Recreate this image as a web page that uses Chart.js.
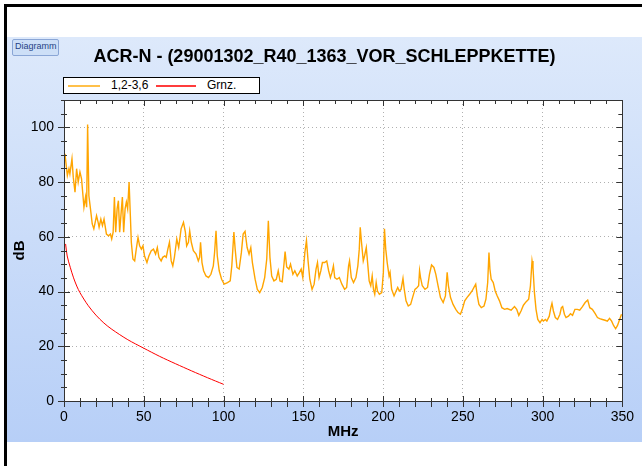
<!DOCTYPE html>
<html>
<head>
<meta charset="utf-8">
<script src="https://cdn.jsdelivr.net/npm/chart.js@4.4.0/dist/chart.umd.min.js"></script>
<style>
body { margin: 0; background: #fff; width: 642px; height: 466px; overflow: hidden; position: relative; font-family: Arial, "Liberation Sans", sans-serif; }
#frame { position: absolute; left: 4px; top: 4px; width: 638px; height: 462px; border-left: 3px solid #000; border-top: 3px solid #000; box-sizing: border-box; }
#panel { position: absolute; left: 7px; top: 37px; width: 635px; height: 405px; background: linear-gradient(to bottom, #dde9fb, #b7cff7); }
#panel canvas { position: absolute; left: 0; top: 0; }
#title { position: absolute; left: 0; top: 8px; width: 635px; text-align: center; font-size: 18px; font-weight: bold; line-height: 22px; color: #000; }
#btn { position: absolute; left: 5px; top: 2px; width: 47px; height: 17px; box-sizing: border-box; border: 1px solid #8aa6d6; border-radius: 2px; background: #cddff7; color: #1f3f86; font-size: 9px; line-height: 13px; padding-left: 2px; }
#legend { position: absolute; left: 56px; top: 40px; width: 197px; height: 17px; box-sizing: border-box; border: 1px solid #000; background: #fff; font-size: 12px; }
#legend .ln { position: absolute; top: 7px; height: 2px; width: 32px; }
#legend .tx { position: absolute; top: 0px; line-height: 15px; color: #000; }
</style>
</head>
<body>
<div id="frame"></div>
<div id="panel">
  <canvas id="myChart" width="635" height="405"></canvas>
  <div id="title">ACR-N - (29001302_R40_1363_VOR_SCHLEPPKETTE)</div>
  <div id="btn">Diagramm</div>
  <div id="legend">
    <div class="ln" style="left:4px;background-color:#ffc04a"></div>
    <div class="tx" style="left:47px">1,2-3,6</div>
    <div class="ln" style="left:92px;width:40px;background-color:#ff3c3c"></div>
    <div class="tx" style="left:143px">Grnz.</div>
  </div>
</div>
<script>
// measured curve 1,2-3,6 (MHz / dB)
var freq = [0.6, 2.1, 3.1, 3.7, 5, 5.8, 6.9, 7.9, 8.9, 10, 11, 12.5, 13.5, 14.2, 14.8, 15.6, 16.6, 17.7, 18.7, 20.4,
    21.4, 22, 23.1, 24.1, 25.1, 26.6, 27.9, 29.1, 29.9, 30.8, 31.6, 32.4, 33.3, 34.1, 34.9, 36, 36.6, 37.4, 38.3, 39.1,
    39.9, 40.8, 41.6, 42.2, 43.2, 44.3, 45.3, 46.4, 47.4, 48.5, 49.5, 50.5, 52, 53.2, 54.7, 56.1, 57.4, 58.5, 59.5, 60.9,
    61.9, 63.2, 64.1, 65.1, 66.1, 67.2, 68.2, 69.2, 70.7, 71.9, 73.4, 74.9, 76.1, 76.9, 78, 78.8, 79.8, 81.1, 82.8, 84.2,
    85, 85.6, 86.5, 87.5, 89, 90.6, 92.1, 93.6, 94.4, 95.3, 96.1, 97.3, 98.8, 100.4, 102.5, 104.2, 105.2, 106.5, 107.3, 108.4,
    109.8, 111.2, 112.3, 113.5, 114.8, 116, 117.1, 118.1, 119.8, 121.2, 122.7, 124.3, 125.8, 127.1, 128.1, 129.1, 130.2, 131.6, 133.1, 134.3,
    135.4, 136.8, 137.9, 138.6, 139.6, 141, 142, 143.5, 144.7, 146.2, 147.6, 148.7, 149.7, 151, 152, 153, 154.1, 155.5, 156.8, 158,
    158.9, 159.9, 161, 162, 163.4, 164.7, 165.9, 167, 168, 168.9, 169.7, 171.1, 172.6, 174.2, 175.9, 177.2, 178.4, 179, 180.1, 181.5,
    183, 184.2, 185.1, 185.7, 186.5, 187.6, 188.4, 189.5, 190.5, 191.3, 192.3, 193.2, 194, 194.8, 195.7, 196.5, 197.7, 199.2, 200.2, 200.9,
    201.7, 202.6, 203.8, 204.4, 205.4, 206.9, 208.2, 209.2, 210.2, 211.3, 212.5, 213.3, 214.4, 215.8, 217.3, 218.5, 220, 221.4, 222.3, 222.9,
    223.5, 224.6, 226.3, 227.9, 229.1, 230.4, 231.9, 233.1, 234.5, 236, 237.7, 239.1, 240.2, 241, 242.3, 243.9, 245.6, 247, 248.5, 249.7,
    251.2, 252.6, 254.3, 255.8, 257, 258.1, 259.1, 260.1, 261.6, 263.3, 264.5, 265.6, 266.4, 267, 267.8, 269.1, 270.3, 271.6, 273, 274.5,
    276.2, 277.8, 280.3, 282.4, 283.8, 285.1, 286.5, 288, 289.6, 291.3, 292.4, 293.4, 294, 294.9, 295.9, 297, 298.4, 299.7, 300.5, 301.8,
    302.7, 304.2, 305.2, 305.9, 306.8, 308, 309.4, 310.9, 311.8, 312.6, 313.7, 314.7, 316.2, 317.5, 318.8, 320.3, 321.8, 323.3, 325, 326.7,
    328.3, 329.6, 331.2, 332.9, 334.4, 335.8, 337.5, 339.2, 340.6, 342, 343.3, 344.5, 345.8, 347, 348.3, 349.5]
var acr = [90.3, 82.4, 84.9, 83, 88.5, 81.8, 76.3, 84.9, 80, 83.7, 81.2, 70.8, 74.5, 70.8, 101, 75, 70.2, 64.7, 62.9, 67.7,
    65.3, 63.5, 66.5, 64.1, 66.5, 61, 60.4, 61, 59.2, 61.7, 74.5, 61.7, 70.2, 73.2, 61.7, 70.2, 74.5, 61.7, 70.2, 72.7,
    70.2, 80, 67.7, 58, 51.9, 51.2, 55.5, 59.8, 56.7, 55.5, 56.7, 53, 50.6, 53, 54.9, 55.5, 53.7, 56.1, 52.5, 51.2,
    52.5, 53, 52.5, 55.5, 58, 51.2, 49.4, 52.5, 59.2, 56.1, 62.9, 65.3, 61.7, 56.7, 58, 62.2, 58, 54.9, 53.7, 51.2,
    52.5, 58, 50.6, 47.6, 45.7, 45.1, 46.3, 49.4, 54.3, 62.2, 53, 47.6, 44.5, 42.7, 43.3, 43.9, 49.4, 61.7, 55.5, 48.8,
    48.2, 54.3, 61, 62, 56.1, 53.7, 56.1, 50.6, 44.5, 40.8, 39.6, 41.5, 45.1, 51.9, 65.9, 52.5, 45.7, 43.9, 44.5, 47.6,
    43.9, 43.6, 50, 54.6, 49, 48.2, 50, 46.3, 47.6, 45.7, 47, 48.2, 45.1, 54.3, 58.6, 51.2, 44.5, 40.8, 42.7, 48.2,
    50.6, 45.1, 47.6, 50.6, 50.6, 51.2, 47.6, 45.1, 47, 49.4, 45.1, 44.5, 45.1, 42.7, 40.8, 41.5, 49.4, 51.2, 45.1, 43.3,
    45.1, 49.4, 55.5, 63.5, 58, 51.2, 53, 56.1, 49.4, 43.9, 42.1, 45.7, 40.8, 39, 43.3, 40.2, 39, 39.6, 47, 62.9,
    55.5, 50.6, 45.7, 47, 40.8, 38.4, 40.2, 41.5, 40.2, 40.8, 44.8, 40.8, 36.6, 34.7, 35.3, 37.8, 40.8, 41.5, 42.1, 47.6,
    45.1, 42.1, 40.8, 41.5, 46.3, 49.7, 48.8, 46.3, 42.1, 37.8, 36, 38.4, 47, 42.1, 37.8, 35.3, 33.5, 32.3, 31.7, 33.5,
    36.6, 37.8, 39, 40.2, 41.5, 42.7, 38.4, 35.3, 34.1, 34.7, 37.2, 43.3, 54.3, 48.2, 44.5, 43.3, 40.2, 38.4, 36.6, 34.1,
    33.5, 33.8, 33.2, 34.5, 33.5, 31.3, 32.9, 35, 36.2, 37.2, 42.1, 51.2, 48.8, 39.6, 33.5, 29.8, 28.6, 29.8, 29.2, 29.8,
    29.2, 31, 34.1, 35.7, 32.9, 30.5, 29.8, 31.7, 34.1, 34.5, 31.7, 30.5, 31, 31.9, 31.3, 33.5, 33.5, 33.2, 34.5, 36,
    36.9, 34.1, 33.5, 32, 30.5, 30.1, 29.8, 29.5, 29.2, 30.2, 29.2, 27.6, 26.4, 27.6, 29.8, 31.7]

// limit curve Grnz.
var limitFreq = [1, 2, 4, 6, 8, 10, 15, 20, 25, 30, 40, 50, 60, 70, 80, 90, 100]
var limitVal = [57.4, 53, 48.7, 45, 42, 39.6, 35, 31.4, 28.5, 26.2, 22.4, 19.3, 16.3, 13.6, 11, 8.5, 6.1]

var xTicks = [0, 50, 100, 150, 200, 250, 300, 350]
var yTicks = [0, 20, 40, 60, 80, 100]

Chart.defaults.font.family = 'Arial, "Liberation Sans", sans-serif'

function pts(xs, ys) {
    return xs.map((f, i) => ({ x: f, y: ys[i] }))
}

// white plot area, frame and small tick marks on all four sides
var frame = {
    id: 'frame',
    beforeDraw: function (chart) {
        var ctx = chart.ctx, a = chart.chartArea
        ctx.save()
        ctx.fillStyle = '#fff'
        ctx.fillRect(a.left, a.top, a.right - a.left, a.bottom - a.top)
        ctx.restore()
    },
    afterDraw: function (chart) {
        var ctx = chart.ctx, a = chart.chartArea
        var sx = chart.scales.x, sy = chart.scales.y
        ctx.save()
        ctx.strokeStyle = '#333'
        ctx.lineWidth = 1
        ctx.strokeRect(Math.round(a.left) + 0.5, Math.round(a.top) + 0.5, Math.round(a.right - a.left), Math.round(a.bottom - a.top))
        ctx.beginPath()
        for (var v = 0; v <= 350; v += 10) {
            var big = v % 50 == 0
            var px = Math.round(sx.getPixelForValue(v)) + 0.5
            ctx.moveTo(px, a.bottom - (big ? 5 : 3))
            ctx.lineTo(px, a.bottom + 6)
            ctx.moveTo(px, a.top)
            ctx.lineTo(px, a.top + (big ? 6 : 4))
        }
        for (var w = 0; w <= 110; w += 5) {
            var big2 = w % 20 == 0
            var py = Math.round(sy.getPixelForValue(w)) + 0.5
            ctx.moveTo(a.left - (big2 ? 6 : 3), py)
            ctx.lineTo(a.left + (big2 ? 6 : 3), py)
            ctx.moveTo(a.right, py)
            ctx.lineTo(a.right - (big2 ? 6 : 4), py)
        }
        ctx.stroke()
        ctx.restore()
    }
}

var ctx = document.getElementById('myChart').getContext('2d')

var myChart = new Chart(ctx, {
    type: 'line',
    data: {
        datasets: [{
            label: '1,2-3,6',
            data: pts(freq, acr),
            borderColor: '#ffa500',
            borderWidth: 1.4,
            pointRadius: 0,
            tension: 0
        },
        {
            label: 'Grnz.',
            data: pts(limitFreq, limitVal),
            borderColor: '#ff0000',
            borderWidth: 1,
            pointRadius: 0,
            tension: 0.3
        }]
    },
    options: {
        responsive: false,
        animation: false,
        layout: { padding: { left: 0, right: 16, top: 63, bottom: 0 } },
        plugins: {
            legend: { display: false },
            tooltip: { enabled: false },
            title: { display: false }
        },
        scales: {
            x: {
                type: 'linear',
                min: 0,
                max: 350,
                afterBuildTicks: function (s) { s.ticks = xTicks.map(v => ({ value: v })) },
                afterFit: function (s) { s.height = 41 },
                ticks: { color: '#000', font: { size: 14 }, padding: 8, maxRotation: 0 },
                grid: { drawTicks: false, color: '#b0b0b0' },
                border: { display: false, dash: [1, 3] },
                title: { display: true, text: 'MHz', color: '#000', font: { size: 15, weight: 'bold' }, padding: { top: 0, bottom: 1 } }
            },
            y: {
                min: 0,
                max: 110,
                afterBuildTicks: function (s) { s.ticks = yTicks.map(v => ({ value: v })) },
                afterFit: function (s) { s.width = 57 },
                ticks: { color: '#000', font: { size: 14 }, padding: 10 },
                grid: { drawTicks: false, color: '#b0b0b0' },
                border: { display: false, dash: [1, 3] },
                title: { display: true, text: 'dB', color: '#000', font: { size: 15, weight: 'bold' }, padding: { top: 4, bottom: 0 } }
            }
        }
    },
    plugins: [frame]
})
</script>
</body>
</html>
